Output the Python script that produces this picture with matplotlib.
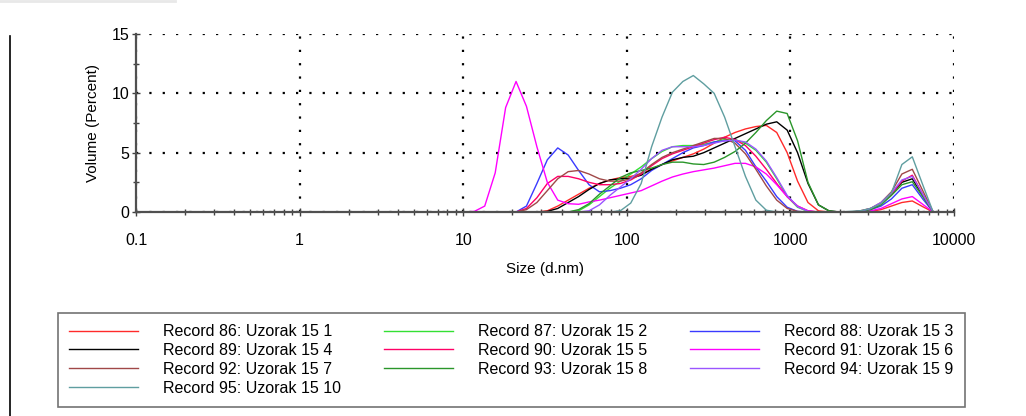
# Distribuição de tamanho por volume (Zetasizer) - Uzorak 15
import numpy as np
import matplotlib
matplotlib.use("Agg")
import matplotlib.pyplot as plt
from matplotlib.ticker import LogLocator, FixedLocator, NullFormatter
from matplotlib.lines import Line2D

plt.rcParams['font.family'] = ['Liberation Sans', 'DejaVu Sans']

# classes de tamanho (d.nm), 0.4 ... 8.721 sem sinal (volume 0)
sizes_low = [0.4, 0.4632, 0.5365, 0.6213, 0.7195, 0.8332, 0.9649, 1.117, 1.294,
             1.499, 1.736, 2.010, 2.328, 2.696, 3.122, 3.615, 4.187, 4.849,
             5.615, 6.503, 7.531, 8.721]
# classes com sinal: 10.10 ... 10000
sizes = [10.10, 11.70, 13.54, 15.69, 18.17, 21.04, 24.36, 28.21, 32.67, 37.84,
         43.82, 50.75, 58.77, 68.06, 78.82, 91.28, 105.7, 122.4, 141.8, 164.2,
         190.1, 220.2, 255.0, 295.3, 342.0, 396.1, 458.7, 531.2, 615.1, 712.4,
         825.0, 955.4, 1106, 1281, 1484, 1718, 1990, 2305, 2669, 3091,
         3580, 4145, 4801, 5560, 6439, 7456, 8635, 10000]

labels = ["Record 86: Uzorak 15 1", "Record 87: Uzorak 15 2", "Record 88: Uzorak 15 3",
          "Record 89: Uzorak 15 4", "Record 90: Uzorak 15 5", "Record 91: Uzorak 15 6",
          "Record 92: Uzorak 15 7", "Record 93: Uzorak 15 8", "Record 94: Uzorak 15 9",
          "Record 95: Uzorak 15 10"]
cores = ['#ff2a2a', '#33e033', '#3a3aff', '#000000', '#ff0066', '#ff00ff',
         '#a04848', '#2a962a', '#9a55ff', '#5f9ea0']

# Volume (%), uma lista por registro (mesma ordem de sizes)
rec86 = [0, 0, 0, 0, 0, 0, 0, 0, 0.1, 0.5, 1.0, 1.5, 2.0, 2.4, 2.7, 2.9, 3.0, 3.2,
         3.6, 4.0, 4.3, 4.6, 4.9, 5.3, 5.8, 6.3, 6.7, 7.0, 7.2, 7.3, 6.7, 5.0, 2.6,
         0.8, 0.1, 0, 0, 0, 0, 0.05, 0.2, 0.5, 0.8, 0.93, 0.45, 0, 0, 0]
rec87 = [0, 0, 0, 0, 0, 0, 0, 0, 0, 0, 0, 0.1, 0.6, 1.3, 2.0, 2.6, 3.2, 3.8,
         4.5, 5.1, 5.5, 5.6, 5.6, 5.7, 5.9, 6.1, 6.1, 5.8, 5.2, 4.2, 2.8, 1.3, 0.4,
         0.05, 0, 0, 0, 0, 0, 0, 0, 0, 0, 0, 0, 0, 0, 0]
rec88 = [0, 0, 0, 0, 0, 0, 0.5, 2.4, 4.4, 5.4, 4.8, 3.5, 2.3, 1.7, 1.8, 2.0, 2.3, 2.8,
         3.5, 4.0, 4.5, 5.0, 5.4, 5.6, 5.9, 6.0, 6.0, 5.2, 3.8, 2.6, 1.3, 0.4, 0.05,
         0, 0, 0, 0, 0, 0.05, 0.2, 0.5, 1.1, 2.0, 2.3, 1.1, 0, 0, 0]
rec89 = [0, 0, 0, 0, 0, 0, 0, 0, 0.05, 0.3, 0.8, 1.3, 1.9, 2.4, 2.7, 2.8, 2.85, 3.1,
         3.6, 4.0, 4.4, 4.6, 4.7, 5.0, 5.4, 5.8, 6.2, 6.6, 7.0, 7.4, 7.6, 6.9, 5.0,
         2.4, 0.6, 0.1, 0, 0, 0.05, 0.25, 0.7, 1.5, 2.5, 2.8, 1.4, 0, 0, 0]
rec90 = [0, 0, 0, 0, 0, 0, 0.3, 1.2, 2.4, 3.0, 3.0, 2.8, 2.5, 2.3, 2.3, 2.4, 2.7, 3.2,
         3.9, 4.5, 4.9, 5.2, 5.5, 5.8, 6.1, 6.3, 6.1, 5.6, 4.7, 3.6, 2.4, 1.3, 0.5,
         0.1, 0, 0, 0, 0, 0.05, 0.3, 0.7, 1.5, 2.6, 3.1, 1.5, 0, 0, 0]
rec91 = [0, 0.05, 0.5, 3.3, 8.8, 11.0, 8.9, 5.5, 2.5, 1.0, 0.7, 0.65, 0.85, 1.0, 1.2,
         1.4, 1.6, 1.8, 2.2, 2.6, 2.95, 3.2, 3.4, 3.55, 3.7, 3.9, 4.1, 4.1, 3.8, 3.2,
         2.3, 1.3, 0.5, 0.1, 0, 0, 0, 0, 0, 0.1, 0.3, 0.7, 1.1, 1.3, 0.65, 0, 0, 0]
rec92 = [0, 0, 0, 0, 0, 0, 0.2, 0.8, 1.8, 2.8, 3.4, 3.5, 3.2, 2.8, 2.6, 2.6, 2.8, 3.3,
         4.0, 4.6, 5.0, 5.3, 5.6, 5.9, 6.2, 6.2, 5.8, 4.9, 3.6, 2.2, 1.0, 0.3, 0.05,
         0, 0, 0, 0, 0, 0.1, 0.3, 0.8, 1.7, 3.2, 3.6, 1.8, 0, 0, 0]
rec93 = [0, 0, 0, 0, 0, 0, 0, 0, 0, 0, 0, 0.2, 0.7, 1.5, 2.2, 2.9, 3.3, 3.5,
         3.7, 4.0, 4.2, 4.2, 4.05, 4.0, 4.2, 4.6, 5.1, 5.8, 6.7, 7.7, 8.5, 8.3, 6.0,
         2.5, 0.6, 0.1, 0, 0, 0.05, 0.2, 0.6, 1.4, 2.3, 2.55, 1.3, 0, 0, 0]
rec94 = [0, 0, 0, 0, 0, 0, 0, 0, 0, 0, 0, 0, 0.1, 0.6, 1.4, 2.1, 2.8, 3.6,
         4.5, 5.2, 5.5, 5.5, 5.5, 5.6, 5.8, 6.0, 6.05, 5.9, 5.3, 4.3, 2.9, 1.4, 0.45,
         0.05, 0, 0, 0, 0, 0.05, 0.3, 0.8, 1.6, 2.7, 3.0, 1.5, 0, 0, 0]
rec95 = [0, 0, 0, 0, 0, 0, 0, 0, 0, 0, 0, 0, 0, 0, 0, 0.1, 0.75, 2.4,
         5.5, 8.0, 10.1, 11.0, 11.5, 10.8, 10.0, 8.0, 5.5, 3.0, 1.0, 0.15, 0, 0, 0,
         0, 0, 0, 0, 0.05, 0.1, 0.3, 0.7, 1.6, 4.0, 4.65, 2.3, 0, 0, 0]
registros = [rec86, rec87, rec88, rec89, rec90, rec91, rec92, rec93, rec94, rec95]

# ------------------------------------------------------------------------------
fig = plt.figure(figsize=(10.26, 4.16), dpi=100)
ax = fig.add_axes([136 / 1026, 1 - 212 / 416, 818 / 1026, 178 / 416])

x_all = np.array(sizes_low + sizes)
linhas = []
for vals, cor, lab in zip(registros, cores, labels):
    y_all = np.concatenate([np.zeros(len(sizes_low)), vals])
    ln, = ax.plot(x_all, y_all, color=cor, lw=1.0, label=lab, clip_on=False)
    linhas.append(ln)

ax.set_xscale('log')
ax.set_xlim(0.1, 10000)
ax.set_ylim(0, 15)

# ticks
ax.xaxis.set_major_locator(FixedLocator([0.1, 1, 10, 100, 1000, 10000]))
ax.set_xticklabels(['0.1', '1', '10', '100', '1000', '10000'])
ax.xaxis.set_minor_locator(LogLocator(base=10, subs=np.arange(2, 10), numticks=20))
ax.xaxis.set_minor_formatter(NullFormatter())
ax.set_yticks([0, 5, 10, 15])
ax.set_yticks([2.5, 7.5, 12.5], minor=True)
ax.tick_params(which='both', direction='inout', colors='#404040', labelcolor='black',
               labelsize=11.5)
ax.tick_params(which='major', length=6, width=1)
ax.tick_params(which='minor', length=5, width=1)
ax.tick_params(axis='x', which='major', pad=12)
ax.tick_params(axis='y', which='major', pad=2)

# grade pontilhada
ax.grid(True, which='major', color='black', linestyle=(0, (1, 5)), lw=1.6)
ax.set_axisbelow(True)

for s in ['top', 'right']:
    ax.spines[s].set_visible(False)
for s in ['left', 'bottom']:
    ax.spines[s].set_color('#505050')
    ax.spines[s].set_linewidth(1.6)

ax.set_xlabel('Size (d.nm)', fontsize=11, labelpad=10)
ax.set_ylabel('Volume (Percent)', fontsize=11, labelpad=8)

# legenda: 3 colunas, ordem por linhas
ordem = [0, 3, 6, 9, 1, 4, 7, 2, 5, 8]
leg = fig.legend([linhas[i] for i in ordem], [labels[i] for i in ordem],
                 loc='upper left', ncol=3, mode='expand',
                 bbox_to_anchor=(58 / 1026, 6 / 416, 907 / 1026, 97 / 416),
                 fontsize=11.5, handlelength=4.3, handletextpad=1.6,
                 labelspacing=0.24, borderaxespad=0, borderpad=0.7,
                 fancybox=False, frameon=True, edgecolor='#505050')
leg.get_frame().set_linewidth(1.2)

# borda da captura à esquerda
fig.add_artist(Line2D([10 / 1026, 10 / 1026], [0, 1 - 36 / 416], color='black', lw=1.2))
fig.add_artist(Line2D([0, 175 / 1026], [1 - 1 / 416, 1 - 1 / 416], color='#e8e8e8', lw=2))

plt.savefig('out.png', dpi=100)
